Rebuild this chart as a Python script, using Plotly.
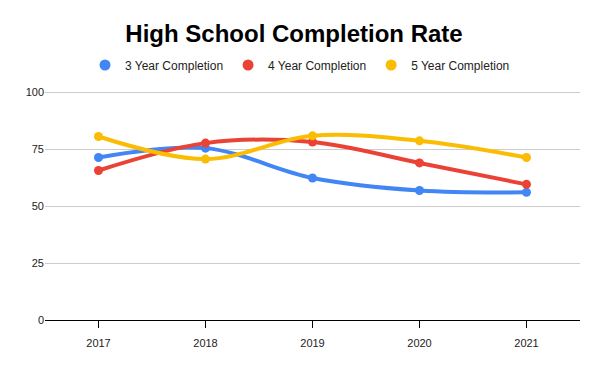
import plotly.graph_objects as go

years = ["2017", "2018", "2019", "2020", "2021"]
three_year = [71.3, 75.4, 62.3, 56.8, 56.0]
four_year = [65.6, 77.6, 78.1, 68.9, 59.5]
five_year = [80.5, 70.6, 80.8, 78.6, 71.3]
series_names = ["3 Year Completion", "4 Year Completion", "5 Year Completion"]
colors = ["#4285F4", "#EA4335", "#FBBC04"]
y_ticks = [0, 25, 50, 75, 100]

fig = go.Figure()
for name, vals, c in zip(series_names, [three_year, four_year, five_year], colors):
    fig.add_trace(go.Scatter(
        x=years, y=vals, mode="lines+markers", name=name, showlegend=False,
        line=dict(color=c, width=4, shape="spline", smoothing=1.0),
        marker=dict(color=c, size=9),
    ))
for name, c in zip(series_names, colors):
    fig.add_trace(go.Scatter(
        x=[None], y=[None], mode="markers", name=name,
        marker=dict(color=c, size=11, symbol="circle"),
    ))

fig.update_layout(
    width=600, height=371,
    margin=dict(l=45, r=20, t=90, b=51, autoexpand=False),
    paper_bgcolor="white", plot_bgcolor="white",
    font=dict(family="Liberation Sans, Arial, sans-serif", size=11, color="#222222"),
    title=dict(text="<b>High School Completion Rate</b>", x=0.49, xanchor="center",
               xref="container",
               y=1 - 34 / 371, yanchor="middle", yref="container",
               font=dict(size=24, color="#000000")),
    legend=dict(orientation="h", x=0.5, xanchor="center", xref="container",
                y=1 - 65 / 371, yanchor="middle", yref="container",
                font=dict(size=12, color="#222222"), itemwidth=30,
                bgcolor="rgba(0,0,0,0)"),
    xaxis=dict(type="category", range=[-0.5, 4.5], showgrid=False,
               showline=True, linecolor="#000000", linewidth=1,
               ticks="outside", ticklen=7, tickcolor="#000000",
               ticklabelstandoff=6, automargin=False,
               tickfont=dict(size=11, color="#222222")),
    yaxis=dict(range=[0, 100.9], tickvals=y_ticks, showgrid=True, gridcolor="#cccccc",
               gridwidth=1, zeroline=True, zerolinecolor="#000000", zerolinewidth=1,
               showline=False, ticks="", automargin=False,
               tickfont=dict(size=11, color="#222222")),
)

fig.write_html("out.html", post_script="document.body.style.margin='0';",
               config={"displayModeBar": False})
